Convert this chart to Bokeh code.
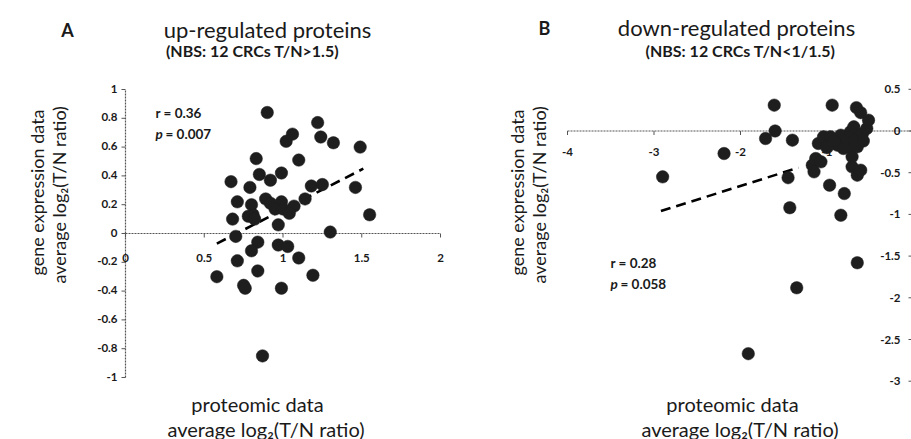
import numpy as np
from bokeh.plotting import figure
from bokeh.models import Range1d, Label
from bokeh.layouts import row
from bokeh.embed import file_html
from bokeh.resources import INLINE
from bokeh.core.properties import value

# ---------------- data : panel A (up-regulated) ----------------
a_x = [0.90, 1.22, 1.06, 1.02, 1.24, 1.32, 1.49, 0.83, 1.10, 0.85,
       0.99, 0.92, 0.67, 0.79, 1.18, 1.25, 1.46, 0.89, 0.71, 0.80,
       0.92, 0.99, 1.07, 1.14, 0.95, 1.00, 1.04, 0.81, 0.78, 0.82,
       0.68, 1.55, 0.97, 1.30, 0.70, 0.84, 0.97, 1.03, 0.80, 0.71,
       1.10, 0.84, 0.58, 1.19, 0.75, 0.99, 0.76, 0.87]
a_y = [0.84, 0.77, 0.69, 0.64, 0.67, 0.63, 0.60, 0.52, 0.51, 0.41,
       0.42, 0.37, 0.36, 0.32, 0.33, 0.34, 0.32, 0.24, 0.22, 0.20,
       0.21, 0.22, 0.19, 0.24, 0.17, 0.17, 0.14, 0.13, 0.12, 0.10,
       0.10, 0.13, 0.06, 0.01, -0.02, -0.06, -0.08, -0.09, -0.12, -0.19,
       -0.17, -0.26, -0.30, -0.29, -0.36, -0.38, -0.38, -0.85]
a_trend_x = [0.58, 1.51]
a_trend_y = [-0.07, 0.45]
a_xticks = [0, 0.5, 1, 1.5, 2]
a_xtick_labels = ["0", "0.5", "1", "1.5", "2"]
a_yticks = [1, 0.8, 0.6, 0.4, 0.2, 0, -0.2, -0.4, -0.6, -0.8, -1]
a_ytick_labels = ["1", "0.8", "0.6", "0.4", "0.2", "0", "-0.2", "-0.4", "-0.6", "-0.8", "-1"]
a_r = "r = 0.36"
a_p = "= 0.007"

# ---------------- data : panel B (down-regulated) ----------------
b_x = [-2.90, -2.19, -1.91, -1.71, -1.61, -1.60, -1.45, -1.43, -1.40, -1.35,
       -1.13, -1.17, -1.15, -1.07, -1.10, -1.04, -0.96, -0.94, -0.97, -0.88,
       -0.84, -0.84, -0.81, -0.80, -0.77, -0.73, -0.71, -0.71, -0.69, -0.66,
       -0.65, -0.65, -0.65, -0.63, -0.61, -0.61, -0.59, -0.54, -0.52, -0.92,
       -0.75, -0.68, -0.58, -1.00]
b_y = [-0.55, -0.27, -2.67, -0.09, 0.31, 0.00, -0.56, -0.92, -0.11, -1.88,
       -0.33, -0.41, -0.49, -0.37, -0.15, -0.07, -0.07, 0.31, -0.65, -0.17,
       -0.05, -1.01, -0.21, -0.75, -0.11, -0.01, -0.31, -0.43, 0.05, 0.28,
       -0.19, -0.53, -1.58, -0.09, 0.22, -0.47, -0.03, 0.03, 0.13, -0.12,
       -0.18, -0.12, -0.12, -0.20]
b_trend_x = [-2.92, -1.33]
b_trend_y = [-0.96, -0.44]
b_xticks = [-4, -3, -2, -1]
b_xtick_labels = ["-4", "-3", "-2", "-1"]
b_yticks = [0.5, 0, -0.5, -1, -1.5, -2, -2.5, -3]
b_ytick_labels = ["0.5", "0", "-0.5", "-1", "-1.5", "-2", "-2.5", "-3"]
b_r = "r = 0.28"
b_p = "= 0.058"

# ---------------- styling ----------------
FONT = "Lato"
DOT = "#1e1e1e"
AXIS = "#555555"
TXT = "#1a1a1a"
H = 439
TOP = 0


def make_fig(width, xr, yr):
    p = figure(width=width, height=H, x_range=xr, y_range=yr,
               output_backend="svg", toolbar_location=None,
               x_axis_location=None, y_axis_location=None,
               min_border=0, background_fill_color="white",
               border_fill_color="white")
    p.grid.visible = False
    p.outline_line_color = None
    return p


def label(p, x, y, text, size, style="normal", angle=0.0, align="center"):
    p.add_layout(Label(x=x, y=y, text=text, text_font=FONT,
                       text_font_size=f"{size}px", text_font_style=style,
                       text_color=TXT, text_align=align,
                       text_baseline="middle", angle=angle))


# ================= Panel A =================
# pixel mapping (picture coords): x_px = 125 + 157.5*x ; y_px = 233 - 144*y
AX0, AXS, AY0, AYS = 125.0, 157.5, 233.0, 144.0
A_LEFT, A_W = 0, 480
ax = lambda px: (px - AX0) / AXS
ay = lambda py: (AY0 - py) / AYS
pa = make_fig(A_W, Range1d(ax(A_LEFT), ax(A_LEFT + A_W)),
              Range1d(ay(TOP + H), ay(TOP)))

# axes lines
pa.line([a_xticks[0], a_xticks[-1]], [0, 0], line_color=AXIS, line_width=1.2, line_dash="2 1")
pa.line([0, 0], [a_yticks[-1], a_yticks[0]], line_color=AXIS, line_width=1.2, line_dash="2 1")
# ticks
tl_x = 4 / AYS
pa.segment(x0=a_xticks, y0=[0] * len(a_xticks), x1=a_xticks, y1=[-tl_x] * len(a_xticks),
           line_color=AXIS, line_width=1)
tl_y = 4 / AXS
pa.segment(x0=[0] * len(a_yticks), y0=a_yticks, x1=[-tl_y] * len(a_yticks), y1=a_yticks,
           line_color=AXIS, line_width=1)
# tick labels
pa.text(x=a_xticks, y=[0] * len(a_xticks), text=a_xtick_labels, text_align="center",
        text_baseline="middle", y_offset=24, text_font=value(FONT),
        text_font_size="11.5px", text_font_style="bold", text_color=TXT)
pa.text(x=[0] * len(a_yticks), y=a_yticks, text=a_ytick_labels, text_align="right",
        text_baseline="middle", x_offset=-8, y_offset=-1, text_font=value(FONT),
        text_font_size="11.5px", text_font_style="bold", text_color=TXT)
# trend + points
pa.line(a_trend_x, a_trend_y, line_color="black", line_width=2.6, line_dash="10 6")
pa.scatter(a_x, a_y, size=12.5, fill_color=DOT, line_color=DOT, line_width=0.5)

# annotations
label(pa, ax(155), ay(112), a_r, 13.5, "bold", align="left")
label(pa, ax(155), ay(133), "p", 13.5, "bold italic", align="left")
label(pa, ax(165), ay(133), a_p, 13.5, "bold", align="left")
# titles
label(pa, ax(67), ay(29), "A", 18, "bold")
label(pa, ax(267), ay(29), "up-regulated proteins", 22)
label(pa, ax(252), ay(50), "(NBS: 12 CRCs T/N>1.5)", 16, "bold")
# axis titles
label(pa, ax(36), ay(192), "gene expression data", 18, angle=np.pi / 2)
label(pa, ax(58), ay(192), "average  log\u2082(T/N ratio)", 18, angle=np.pi / 2)
label(pa, ax(257), ay(403), "proteomic data", 20)
label(pa, ax(268), ay(428), "average  log\u2082(T/N ratio)", 20)

# ================= Panel B =================
# x_px = 913 + 86.5*x ; y_px = 130.5 - 83.4*y
BX0, BXS, BY0, BYS = 913.0, 86.5, 130.5, 83.4
B_LEFT, B_W = A_LEFT + A_W, 431
bx = lambda px: (px - BX0) / BXS
by = lambda py: (BY0 - py) / BYS
pb = make_fig(B_W, Range1d(bx(B_LEFT), bx(B_LEFT + B_W)),
              Range1d(by(TOP + H), by(TOP)))

pb.line([b_xticks[0], 0], [0, 0], line_color=AXIS, line_width=1.2, line_dash="2 1")
pb.line([0, 0], [b_yticks[-1], b_yticks[0]], line_color=AXIS, line_width=1.2, line_dash="2 1")
tlb = 4 / BYS
pb.segment(x0=b_xticks, y0=[0] * len(b_xticks), x1=b_xticks, y1=[-tlb] * len(b_xticks),
           line_color=AXIS, line_width=1)
tlby = 5 / BXS
pb.segment(x0=[0] * len(b_yticks), y0=b_yticks, x1=[-tlby] * len(b_yticks), y1=b_yticks,
           line_color=AXIS, line_width=1)
pb.text(x=b_xticks, y=[0] * len(b_xticks), text=b_xtick_labels, text_align="center",
        text_baseline="middle", y_offset=21, text_font=value(FONT),
        text_font_size="11.5px", text_font_style="bold", text_color=TXT)
pb.text(x=[0] * len(b_yticks), y=b_yticks, text=b_ytick_labels, text_align="right",
        text_baseline="middle", x_offset=-13, text_font=value(FONT),
        text_font_size="11.5px", text_font_style="bold", text_color=TXT)
pb.line(b_trend_x, b_trend_y, line_color="black", line_width=2.6, line_dash="10 6")
pb.scatter(b_x, b_y, size=12.5, fill_color=DOT, line_color=DOT, line_width=0.5)

label(pb, bx(610), by(262), b_r, 13.5, "bold", align="left")
label(pb, bx(610), by(283), "p", 13.5, "bold italic", align="left")
label(pb, bx(620), by(283), b_p, 13.5, "bold", align="left")
label(pb, bx(544), by(27), "B", 18, "bold")
label(pb, bx(736), by(27), "down-regulated proteins", 22)
label(pb, bx(740), by(50), "(NBS: 12 CRCs T/N<1/1.5)", 16, "bold")
label(pb, bx(516), by(192), "gene expression data", 18, angle=np.pi / 2)
label(pb, bx(538), by(192), "average  log\u2082(T/N ratio)", 18, angle=np.pi / 2)
label(pb, bx(732), by(403), "proteomic data", 20)
label(pb, bx(742), by(428), "average  log\u2082(T/N ratio)", 20)

layout = row(pa, pb)
open("out.html", "w").write(file_html(layout, INLINE))
